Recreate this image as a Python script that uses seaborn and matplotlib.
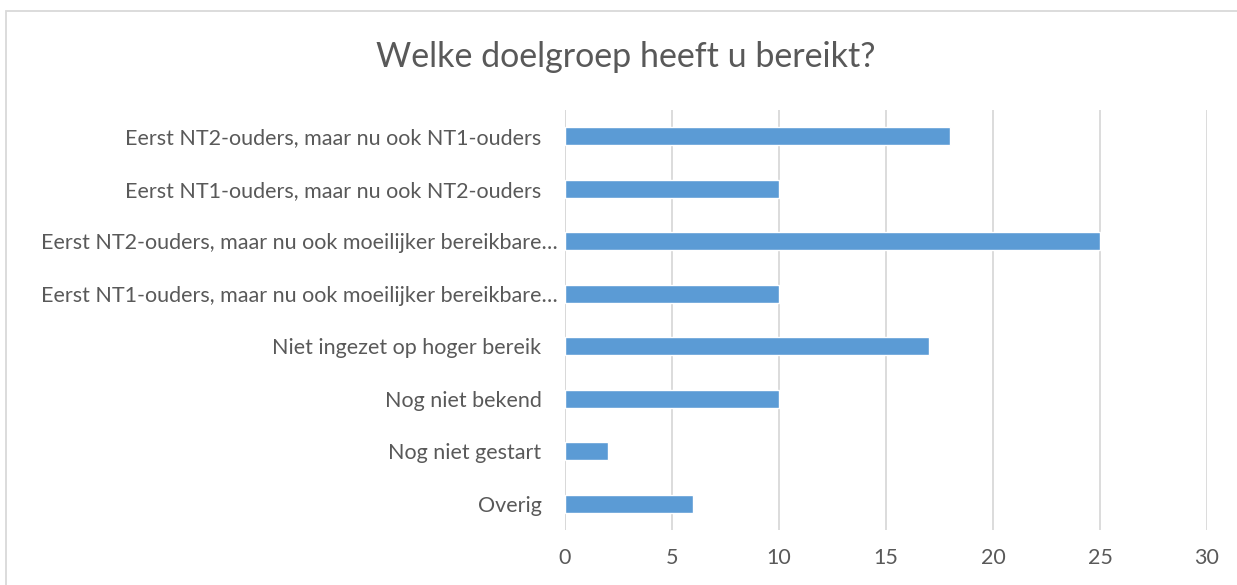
import matplotlib
matplotlib.use("Agg")
import matplotlib.pyplot as plt
import matplotlib.transforms as mtransforms
import seaborn as sns
import pandas as pd
from matplotlib.patches import Rectangle

categories = [
    "Eerst NT2-ouders, maar nu ook NT1-ouders",
    "Eerst NT1-ouders, maar nu ook NT2-ouders",
    "Eerst NT2-ouders, maar nu ook moeilijker bereikbare…",
    "Eerst NT1-ouders, maar nu ook moeilijker bereikbare…",
    "Niet ingezet op hoger bereik",
    "Nog niet bekend",
    "Nog niet gestart",
    "Overig",
]
values = [18, 10, 25, 10, 17, 10, 2, 6]
xticks = [0, 5, 10, 15, 20, 25, 30]
title = "Welke doelgroep heeft u bereikt?"

sns.set_theme(style="white")
plt.rcParams['font.family'] = ['Lato', 'DejaVu Sans']

W, H = 1237, 585
fig = plt.figure(figsize=(W / 100, H / 100), dpi=100)
ax = fig.add_axes([565 / W, 1 - 530 / H, (1207 - 565) / W, (530 - 110) / H])

df = pd.DataFrame({"cat": categories, "val": values})
sns.barplot(data=df, x="val", y="cat", ax=ax, color="#5B9BD5", width=0.35,
            saturation=1, zorder=3)

ax.set_xlim(0, 30)
ax.set_ylim(7.5, -0.5)
ax.set_xticks(xticks)
ax.set_xticklabels([str(t) for t in xticks])
ax.grid(axis="x", color="#d9d9d9", linewidth=1.3, zorder=0)
ax.grid(axis="y", visible=False)
for s in ax.spines.values():
    s.set_visible(False)
ax.axvline(0, color="#d9d9d9", linewidth=1.3, zorder=1)
ax.set_xlabel("")
ax.set_ylabel("")
ax.tick_params(axis="y", length=0, pad=17, labelsize=15.5, labelcolor="#595959")
ax.tick_params(axis="x", length=0, pad=13, labelsize=15.5, labelcolor="#595959")

shift = mtransforms.ScaledTranslation(16 / 100, 0, fig.dpi_scale_trans)
for lbl in ax.get_yticklabels():
    if lbl.get_text().endswith("…"):
        lbl.set_transform(lbl.get_transform() + shift)

fig.text(626 / W, 1 - 57 / H, title, ha="center", va="center",
         fontsize=24.5, color="#595959")

fig.patches.append(Rectangle((6 / W, -0.1), 1.2, (H - 11) / H + 0.1,
                             transform=fig.transFigure, fill=False,
                             edgecolor="#d9d9d9", linewidth=1.3))

fig.savefig("out.png", dpi=100)
